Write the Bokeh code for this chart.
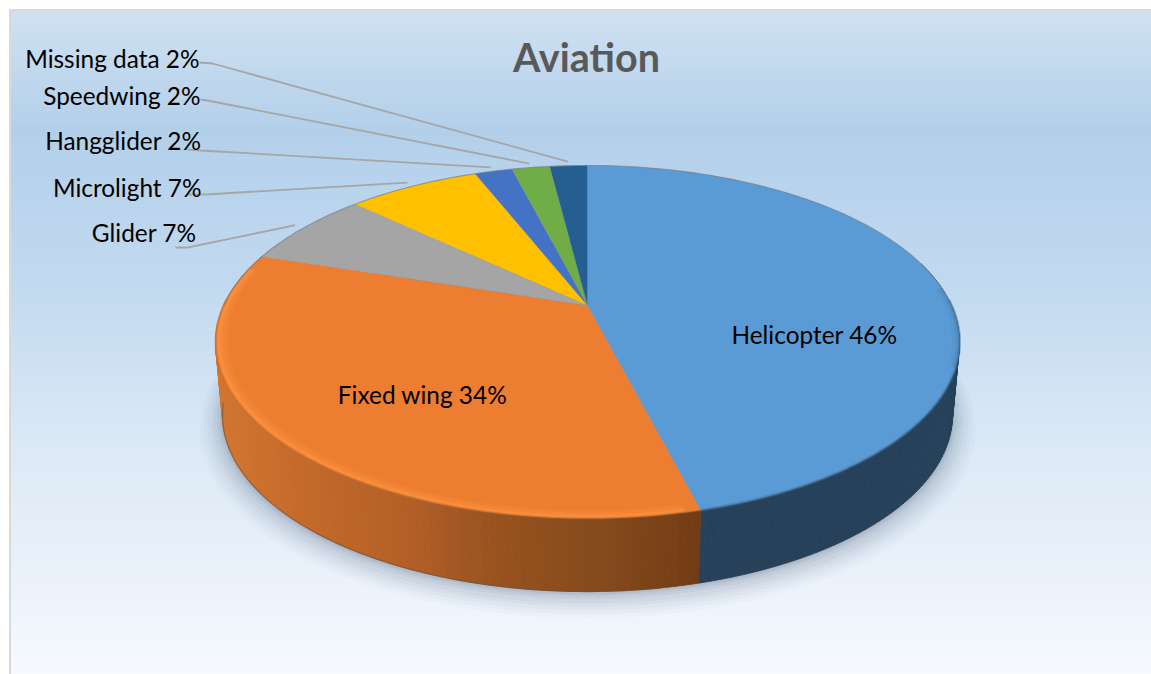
import numpy as np
from bokeh.core.properties import value
from bokeh.embed import file_html
from bokeh.models import ColumnDataSource, Range1d
from bokeh.plotting import figure
from bokeh.resources import INLINE

# Slices are listed clockwise from twelve o'clock, starting with Helicopter.
categories = ["Helicopter", "Fixed wing", "Glider", "Microlight",
              "Hangglider", "Speedwing", "Missing data"]
shares = [46, 34, 7, 7, 2, 2, 2]
colors = ["#5b9bd5", "#ed7d31", "#a5a5a5", "#ffc000",
          "#4472c4", "#70ad47", "#255e91"]

chart_title = "Aviation"

# Label placement for each slice, in page pixels (right edge or centre, mid height).
label_x = [814, 422, 196, 201, 201, 200, 199]
label_y = [334, 394, 232, 187, 140, 95, 58]
label_align = ["center", "center", "right", "right", "right", "right", "right"]
# Leader start and elbow for the outside labels.
leader_start = {"Glider": (175, 247), "Microlight": (186, 194), "Hangglider": (187, 149),
                "Speedwing": (200, 99), "Missing data": (199, 62)}
leader_elbow = {"Glider": (187, 247), "Microlight": (205, 194), "Hangglider": (200, 150),
                "Speedwing": (207, 100), "Missing data": (212, 63)}

# Pie projection: a disc seen in perspective with a thick edge.
CX, APEX_Y = 587.0, 305.0
A, B, W = 364.0, 169.0, 0.2068
DEPTH = 73.0
BASE_SCALE = 0.981


def top_xy(theta_deg, r=1.0):
    t = np.radians(np.asarray(theta_deg, dtype=float))
    u, v = r * np.sin(t), r * np.cos(t)
    d = 1 + W * v
    return CX + A * u / d, APEX_Y - B * v / d


def base_xy(theta_deg, r=1.0):
    x, y = top_xy(theta_deg, r)
    return CX + (x - CX) * BASE_SCALE, y + DEPTH


def lerp_hex(stops, pos):
    xs = [s[0] for s in stops]
    rgb = np.array([[int(s[1][i:i + 2], 16) for i in (1, 3, 5)] for s in stops], dtype=float)
    vals = [np.interp(pos, xs, rgb[:, k]) for k in range(3)]
    return "#%02x%02x%02x" % tuple(int(round(c)) for c in vals)


p = figure(width=1151, height=674, output_backend="svg", toolbar_location=None,
           x_range=Range1d(0, 1151), y_range=Range1d(674, 0),
           x_axis_type=None, y_axis_type=None, min_border=0,
           background_fill_color="#ffffff", border_fill_color="#ffffff",
           outline_line_color=None)
p.grid.visible = False

# Panel background: a vertical wash of blues
bg_stops = [(10, "#cfe1f1"), (130, "#b2cfea"), (300, "#c3daf0"), (450, "#dce9f6"),
            (560, "#e8f0fa"), (674, "#f6fafd")]
rows = np.arange(10, 674, 3)
p.quad(left=10, right=1151, top=rows, bottom=rows + 3,
       fill_color=[lerp_hex(bg_stops, y + 1) for y in rows],
       line_color=[lerp_hex(bg_stops, y + 1) for y in rows], line_width=0.6)
p.line([9.5, 9.5], [9, 674], line_color="#d9d9d9", line_width=2)
p.line([9, 1151], [9.5, 9.5], line_color="#d9d9d9", line_width=2)

# Soft shadow under the disc, built from stacked translucent outlines
full = np.linspace(0, 360, 241)
for grow, shift, alpha in [(1.06, 10, 0.022), (1.05, 9, 0.028), (1.04, 8, 0.034),
                           (1.03, 7, 0.04), (1.022, 6, 0.046), (1.014, 4, 0.054),
                           (1.007, 3, 0.064), (1.003, 2, 0.08)]:
    sx, sy = base_xy(full, grow)
    p.patch(sx, sy + shift, fill_color="#3c5068", fill_alpha=alpha, line_color=None)

# Slice boundaries, clockwise on the page from twelve o'clock
edges = np.concatenate([[0], np.cumsum(shares)]) * 3.6

# Thick edge of the disc: the part facing the viewer
side_stops = {
    "Helicopter": [(0, "#264159"), (1151, "#264159")],
    "Fixed wing": [(218, "#d2752f"), (300, "#c46a2a"), (400, "#b46027"), (500, "#96521f"),
                   (600, "#864a1b"), (712, "#6f3a14")],
}
for name in ("Helicopter", "Fixed wing"):
    i = categories.index(name)
    lo, hi = max(edges[i], 75.0), min(edges[i + 1], 288.0)
    grid = np.arange(lo, hi + 1.0, 1.0)
    grid[-1] = hi
    for a0, a1 in zip(grid[:-1], grid[1:]):
        x0, y0 = top_xy(a0)
        x1, y1 = top_xy(a1)
        x2, y2 = base_xy(a1)
        x3, y3 = base_xy(a0)
        c = lerp_hex(side_stops[name], (x0 + x1) / 2)
        p.patch([x0, x1, x2, x3], [y0, y1, y2, y3], fill_color=c, line_color=c, line_width=0.8)

# Darker seam along the disc's lower outline on the left
arc = np.linspace(edges[1] + 5, 262, 70)
lx, ly = base_xy(arc)
p.line(lx, ly, line_color="#6e4a30", line_width=1.2, line_alpha=0.55)

# Top face of the disc
for i, name in enumerate(categories):
    th = np.linspace(edges[i], edges[i + 1], max(4, int(shares[i] * 4)))
    x, y = top_xy(th)
    p.patch(np.r_[CX, x], np.r_[APEX_Y, y], fill_color=colors[i], line_color="#8c8c8c",
            line_alpha=0.25, line_width=0.8)

# Bevel: a lighter rounded lip along the front of the orange slice
i_fw = categories.index("Fixed wing")
th = np.linspace(edges[i_fw] + 2, 283, 140)
for r_in, alpha in [(0.968, 0.2), (0.978, 0.3), (0.986, 0.42)]:
    ox, oy = top_xy(th, 0.996)
    ix, iy = top_xy(th[::-1], r_in)
    p.patch(np.r_[ox, ix], np.r_[oy, iy], fill_color="#ff963f", fill_alpha=alpha, line_color=None)

# Shaded lip on the far right of the blue slice
th = np.linspace(84, 110, 40)
for r_in, alpha in [(0.98, 0.12), (0.99, 0.2)]:
    ox, oy = top_xy(th, 1.0)
    ix, iy = top_xy(th[::-1], r_in)
    p.patch(np.r_[ox, ix], np.r_[oy, iy], fill_color="#3f72a5", fill_alpha=alpha, line_color=None)

# Blurred transition from top face to edge
for name, width, alpha, col in [("Helicopter", 3.0, 0.45, "#3f6f9c"),
                                ("Fixed wing", 2.0, 0.35, "#c06a2b")]:
    i = categories.index(name)
    th = np.linspace(max(edges[i], 88), min(edges[i + 1], 272), 90)
    tx, ty = top_xy(th)
    p.line(tx, ty, line_color=col, line_width=width, line_alpha=alpha)

# Thin grey outline around the far side of the disc
th = np.linspace(-90, 95, 160)
rx, ry = top_xy(th)
p.line(rx, ry, line_color="#6f7c8a", line_width=1.1, line_alpha=0.6)

# Leader lines, from each outside label to the middle of its slice's rim
mids = (edges[:-1] + edges[1:]) / 2
for i, name in enumerate(categories):
    if name in leader_start:
        ex, ey = top_xy(mids[i], 1.035)
        sx, sy = leader_start[name]
        kx, ky = leader_elbow[name]
        p.line([sx, kx, ex], [sy, ky, ey], line_color="#a6a6a6", line_width=1.8)

# Slice labels
labels = ColumnDataSource(dict(
    x=label_x, y=label_y, align=label_align,
    text=[f"{n} {v}%" for n, v in zip(categories, shares)],
))
p.text(x="x", y="y", text="text", source=labels, text_align="align", text_baseline="middle",
       text_font=value("Lato"), text_font_size="24.4px", text_color="#000000")

p.text(x=[586], y=[56], text=[chart_title], text_align="center", text_baseline="middle",
       text_font=value("Lato"), text_font_style="bold", text_font_size="39.5px",
       text_color="#595959")

open("out.html", "w").write(file_html(p, INLINE))
